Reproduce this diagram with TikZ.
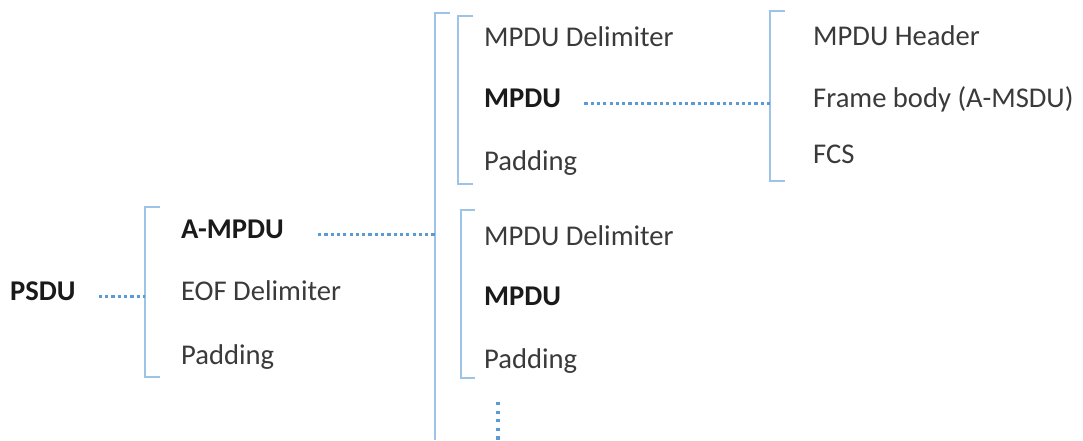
\documentclass[tikz,border=0pt]{standalone}
\usepackage{fontspec}
\setmainfont{Carlito}
\definecolor{dotblue}{HTML}{5B9BD5}
\definecolor{brblue}{HTML}{9DC3E6}
\definecolor{txtgray}{HTML}{3A3A3A}
\definecolor{txtbold}{HTML}{1A1A1A}
\tikzset{
  lbl/.style={anchor=base west, inner sep=0pt, text height=0.64em, text depth=0pt,
    font=\fontsize{28.6}{32}\selectfont, text=txtgray},
  blbl/.style={lbl, font=\fontsize{28.6}{32}\selectfont\bfseries, text=txtbold},
  dots/.style={draw=dotblue, line width=3.3pt, dash pattern=on 3.2pt off 3.1pt},
  vdots/.style={draw=dotblue, line width=3.3pt, dash pattern=on 3.2pt off 5.4pt},
  brk/.style={draw=brblue, line width=2.2pt}
}
\begin{document}
\begin{tikzpicture}[x=1pt,y=1pt]
\useasboundingbox (0,0) rectangle (1083,-440);
% level 0
\node[blbl] (psdu) at (10,-300) {PSDU};
% bracket 1
\coordinate (b1t) at (145,-207);
\coordinate (b1b) at (145,-377);
\coordinate (b1m) at (145,-291);
\draw[brk] (160,-207) -- (b1t) -- (b1b) -- (160,-377);
\node[blbl] (ampdu) at (181,-238) {A-MPDU};
\node[lbl] (eof) at (181,-300) {EOF Delimiter};
\node[lbl] (pad1) at (181,-364) {Padding};
\draw[dots] ([xshift=23pt]psdu.east) -- (b1m |- psdu.east);
% big bracket
\coordinate (bbt) at (435,-13);
\coordinate (bbb) at (435,-440);
\draw[brk] (450,-13) -- (bbt) -- (bbb);
\draw[dots] ([xshift=34pt]ampdu.east) -- (bbt |- ampdu.east);
% bracket 2a
\draw[brk] (473,-16) -- (458,-16) -- (458,-184) -- (473,-184);
\node[lbl] (del1) at (484,-46) {MPDU Delimiter};
\node[blbl] (mpdu1) at (484,-107) {MPDU};
\node[lbl] (pad2) at (484,-170) {Padding};
% bracket 2b
\draw[brk] (475,-210) -- (461,-210) -- (461,-378) -- (475,-378);
\node[lbl] (del2) at (484,-245) {MPDU Delimiter};
\node[blbl] (mpdu2) at (484,-305) {MPDU};
\node[lbl] (pad3) at (484,-368) {Padding};
% continuation
\coordinate (cont) at (498,-440);
\draw[vdots] (498,-402) -- (cont);
% bracket 3
\coordinate (b3t) at (770,-11);
\coordinate (b3b) at (770,-181);
\draw[brk] (785,-11) -- (b3t) -- (b3b) -- (785,-181);
\draw[dots] ([xshift=23pt]mpdu1.east) -- (b3t |- mpdu1.east);
\node[lbl] (hdr) at (813,-45) {MPDU Header};
\node[lbl] (body) at (813,-107) {Frame body (A-MSDU)};
\node[lbl] (fcs) at (813,-163) {FCS};
\end{tikzpicture}
\end{document}
